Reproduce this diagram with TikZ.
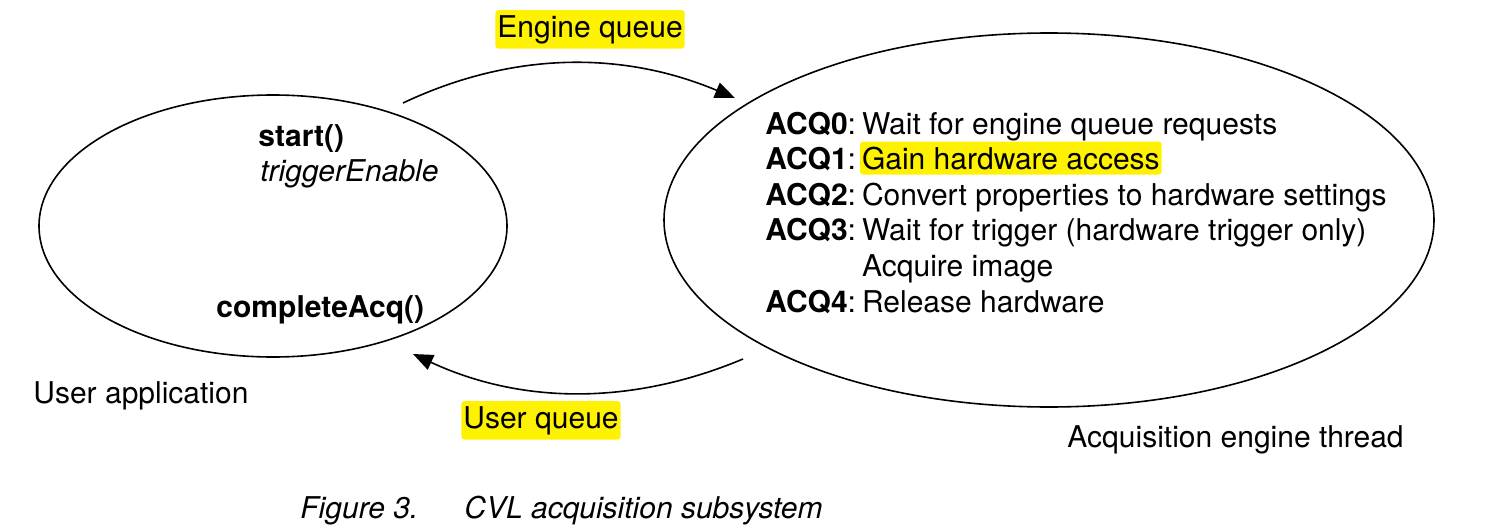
\documentclass[tikz,border=0pt]{standalone}
\usepackage{fontspec}
\setmainfont{TeX Gyre Heros}
\usetikzlibrary{arrows.meta}

\tikzset{
  txt/.style={anchor=base west, inner sep=0pt, font=\fontsize{15}{18}\selectfont},
  hilite/.style={txt, fill=yellow, rounded corners=1.5pt, inner xsep=1pt, inner ysep=2.5pt},
  queue/.style={line width=0.8pt, -{Triangle[length=10pt,width=8pt]}},
}

\begin{document}
\begin{tikzpicture}[x=0.5pt,y=0.5pt,yscale=-1]
\useasboundingbox (0,0) rectangle (1495,530);

%Ellipses
\draw[line width=0.8pt] (273,226) ellipse [x radius=234, y radius=131];
\draw[line width=0.8pt] (1049,220) ellipse [x radius=385, y radius=187];

%Queue arrows
\coordinate (engfrom) at (403,103);
\coordinate (engto) at (735,98);
\draw[queue] (engfrom) .. controls (513,51) and (623,51) .. (engto);
\coordinate (usrfrom) at (743,359);
\coordinate (usrto) at (413,354);
\draw[queue] (usrfrom) .. controls (633,405) and (523,405) .. (usrto);

% Text Node
\node[hilite] (engq) at (495,37) {Engine queue};
% Text Node
\node[hilite] (usrq) at (461,428) {User queue};
% Text Node
\node[txt] (startcall) at (258,146) {\textbf{start()}};
% Text Node
\node[txt] (trigen) at (260,181) {\textit{triggerEnable}};
% Text Node
\node[txt] (complete) at (216,317) {\textbf{completeAcq()}};
% Text Node
\node[txt] (userapp) at (33,403) {User application};
% Text Node
\node[txt] (acqA) at (765,134) {\textbf{ACQ0}:\hspace{0.2em}Wait for engine queue requests};
\node[txt] (acqB) at (765,169) {\textbf{ACQ1}:};
\node[hilite] (gain) at ([xshift=1.6pt]acqB.base east) {Gain hardware access};
\node[txt] (acqC) at (765,205) {\textbf{ACQ2}:\hspace{0.2em}Convert properties to hardware settings};
\node[txt] (acqD) at (765,240) {\textbf{ACQ3}:\hspace{0.2em}Wait for trigger (hardware trigger only)};
\node[txt] (acqE) at (765,276) {\phantom{\textbf{ACQ3}:\hspace{0.2em}}Acquire image};
\node[txt] (acqF) at (765,312) {\textbf{ACQ4}:\hspace{0.2em}Release hardware};
% Text Node
\node[txt] (engthread) at (1067,447) {Acquisition engine thread};
% Text Node
\node[txt] (capnum) at (300,518) {\textit{Figure 3.}};
\node[txt] (captxt) at (464,518) {\textit{CVL acquisition subsystem}};

\end{tikzpicture}
\end{document}
